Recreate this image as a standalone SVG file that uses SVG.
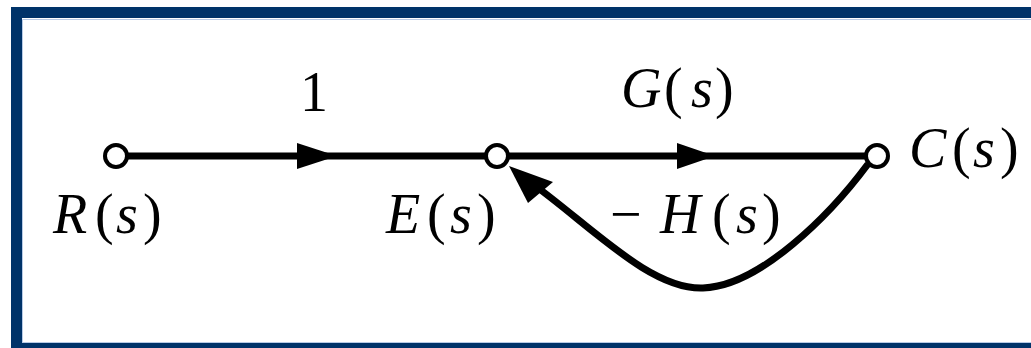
<svg xmlns="http://www.w3.org/2000/svg" width="1031" height="348" viewBox="0 0 1031 348">
<defs>
<style>
.frame{fill:#003369}
.edge{fill:none;stroke:#000;stroke-width:7}
.node{fill:#fff;stroke:#000;stroke-width:4}
.head{fill:#000}
text{font-family:'Liberation Serif','Times New Roman',serif;font-size:56px}
.it{font-style:italic}
</style>
</defs>
<rect x="0" y="0" width="1031" height="348" fill="#fff"/>
<g id="frame">
<rect class="frame" x="11" y="7" width="1020" height="11"/>
<rect class="frame" x="11" y="7" width="11" height="341"/>
<rect class="frame" x="11" y="343" width="1020" height="5"/>
<path d="M22.5 342 V19.5 H1031" fill="none" stroke="#b8cbe6" stroke-width="1"/>
<path d="M22 342.5 H1031" fill="none" stroke="#b8cbe6" stroke-width="1"/>
</g>
<g id="connectors">
<line class="edge" x1="116" y1="156" x2="497" y2="156"/>
<polygon class="head" points="337,156 297,143 297,169"/>
<line class="edge" x1="497" y1="156" x2="877" y2="156"/>
<polygon class="head" points="715,156 677,143 677,169"/>
<path class="edge" d="M868,164 C830,215 760,286 703,288 C650,290 590,225 530,182"/>
<polygon class="head" points="509,166 553,182 528,203"/>
</g>
<g id="node-R">
<circle class="node" cx="116" cy="156" r="11"/>
<text y="233"><tspan class="it" x="53">R</tspan><tspan x="95">(</tspan><tspan class="it" x="116">s</tspan><tspan x="143">)</tspan></text>
</g>
<g id="node-E">
<circle class="node" cx="497" cy="156" r="11"/>
<text y="233"><tspan class="it" x="386">E</tspan><tspan x="427">(</tspan><tspan class="it" x="450">s</tspan><tspan x="477">)</tspan></text>
</g>
<g id="node-C">
<circle class="node" cx="877" cy="156" r="11"/>
<text y="167"><tspan class="it" x="909">C</tspan><tspan x="952">(</tspan><tspan class="it" x="973">s</tspan><tspan x="1000">)</tspan></text>
</g>
<g id="label-1">
<text x="300" y="111">1</text>
</g>
<g id="label-G">
<text y="107"><tspan class="it" x="621">G</tspan><tspan x="664">(</tspan><tspan class="it" x="691">s</tspan><tspan x="715">)</tspan></text>
</g>
<g id="label-H">
<text y="233"><tspan x="610">−</tspan><tspan class="it" x="660">H</tspan><tspan x="712">(</tspan><tspan class="it" x="736">s</tspan><tspan x="762">)</tspan></text>
</g>
</svg>
